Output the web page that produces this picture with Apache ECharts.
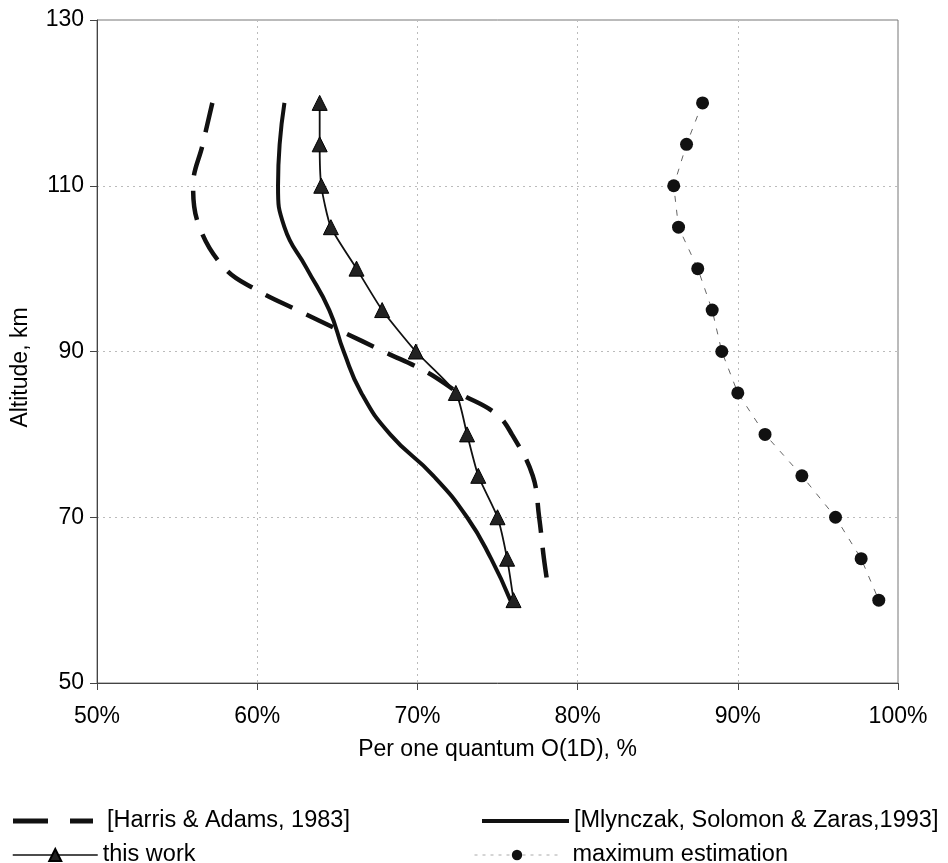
<!DOCTYPE html>
<html>
<head>
<meta charset="utf-8">
<script src="https://cdn.jsdelivr.net/npm/echarts@6/dist/echarts.min.js"></script>
<style>
html,body{margin:0;padding:0;background:#fff;}
#chart{width:948px;height:863px;}
</style>
</head>
<body>
<div id="chart"></div>
<script>
// Altitudes (km) and values (%)
const harrisAlt = [120, 115, 110, 105, 100, 97.5, 95, 92.5, 90, 87.5, 85, 82.5, 80, 75, 70, 65, 61];
const harrisVal = [57.2, 56.6, 56.0, 56.4, 58.0, 59.9, 62.5, 65.2, 67.9, 70.6, 72.6, 74.9, 75.9, 77.2, 77.6, 77.9, 78.2];

const mlynAlt = [120, 115, 110, 105, 100, 95, 90, 85, 80, 75, 70, 65, 60];
const mlynVal = [61.7, 61.4, 61.3, 61.7, 63.1, 64.5, 65.4, 66.5, 68.3, 71.0, 73.1, 74.6, 75.8];

const workAlt = [120, 115, 110, 105, 100, 95, 90, 85, 80, 75, 70, 65, 60];
const workVal = [63.9, 63.9, 64.0, 64.6, 66.2, 67.8, 69.9, 72.4, 73.1, 73.8, 75.0, 75.6, 76.0];

const maxAlt = [120, 115, 110, 105, 100, 95, 90, 85, 80, 75, 70, 65, 60];
const maxVal = [87.8, 86.8, 86.0, 86.3, 87.5, 88.4, 89.0, 90.0, 91.7, 94.0, 96.1, 97.7, 98.8];

const names = ['[Harris & Adams, 1983]', '[Mlynczak, Solomon & Zaras,1993]', 'this work', 'maximum estimation'];

const pairs = (xs, ys) => xs.map((v, i) => [v, ys[i]]);

const FONT = 'Liberation Sans, Arial, sans-serif';
const chart = echarts.init(document.getElementById('chart'));

const legendText = { fontFamily: FONT, fontSize: 23.5, color: '#000' };

chart.setOption({
  animation: false,
  backgroundColor: '#fff',
  grid: {
    left: 97, right: 50, top: 20, bottom: 180,
    show: true, borderColor: '#777', borderWidth: 1
  },
  xAxis: {
    type: 'value', min: 50, max: 100, interval: 10,
    name: 'Per one quantum O(1D), %',
    nameLocation: 'middle', nameGap: 55, nameMoveOverlap: false,
    nameTextStyle: { fontFamily: FONT, fontSize: 23, color: '#000' },
    axisLine: { show: true, lineStyle: { color: '#444', width: 1 } },
    axisTick: { show: true, inside: false, length: 7, lineStyle: { color: '#444' } },
    axisLabel: { formatter: '{value}%', fontFamily: FONT, fontSize: 23, color: '#000', margin: 22 },
    splitLine: { show: true, lineStyle: { color: '#bbb', type: [2, 4], width: 1 } }
  },
  yAxis: {
    type: 'value', min: 50, max: 130, interval: 20,
    name: 'Altitude, km',
    nameLocation: 'middle', nameGap: 65, nameRotate: 90, nameMoveOverlap: false,
    nameTextStyle: { fontFamily: FONT, fontSize: 23, color: '#000', padding: [0, 32, 0, 0] },
    axisLine: { show: true, lineStyle: { color: '#444', width: 1 } },
    axisTick: { show: true, inside: false, length: 7, lineStyle: { color: '#444' } },
    axisLabel: { fontFamily: FONT, fontSize: 23, color: '#000', margin: 13 },
    splitLine: { show: true, lineStyle: { color: '#bbb', type: [2, 4], width: 1 } }
  },
  legend: [
    {
      selectedMode: false, left: 8, top: 804, itemWidth: 80, itemHeight: 5,
      textStyle: Object.assign({ padding: [0, 0, 0, 9] }, legendText),
      data: [{ name: names[0], icon: 'path://M0,0H35V5H0Z M57,0H80V5H57Z', itemStyle: { color: '#111' } }]
    },
    {
      selectedMode: false, left: 477, top: 804, itemWidth: 87, itemHeight: 4,
      textStyle: legendText,
      data: [{ name: names[1], icon: 'rect', itemStyle: { color: '#111' } }]
    },
    {
      selectedMode: false, left: 7, top: 838, itemWidth: 85, itemHeight: 15,
      textStyle: legendText,
      data: [{ name: names[2], lineStyle: { width: 1.5, color: '#111' } }]
    },
    {
      selectedMode: false, left: 469, top: 838, itemWidth: 85, itemHeight: 13,
      textStyle: Object.assign({ padding: [0, 0, 0, 8] }, legendText),
      data: [{ name: names[3], lineStyle: { width: 1, color: '#aaa', type: [3, 5] } }]
    }
  ],
  series: [
    {
      name: names[0], type: 'line', smooth: 0.4,
      data: pairs(harrisVal, harrisAlt),
      showSymbol: false, symbol: 'none',
      lineStyle: { color: '#111', width: 4.5, type: [30, 15] },
      itemStyle: { color: '#111' }
    },
    {
      name: names[1], type: 'line', smooth: 0.5,
      data: pairs(mlynVal, mlynAlt),
      showSymbol: false, symbol: 'none',
      lineStyle: { color: '#111', width: 4, type: 'solid' },
      itemStyle: { color: '#111' }
    },
    {
      name: names[2], type: 'line', smooth: 0.2,
      data: pairs(workVal, workAlt),
      symbol: 'triangle', symbolSize: 15,
      lineStyle: { color: '#111', width: 1.8 },
      itemStyle: { color: '#222', borderColor: '#000', borderWidth: 1 }
    },
    {
      name: names[3], type: 'line', smooth: false,
      data: pairs(maxVal, maxAlt),
      symbol: 'circle', symbolSize: 13,
      lineStyle: { color: '#666', width: 1, type: [6, 8] },
      itemStyle: { color: '#111' }
    }
  ]
});
</script>
</body>
</html>
